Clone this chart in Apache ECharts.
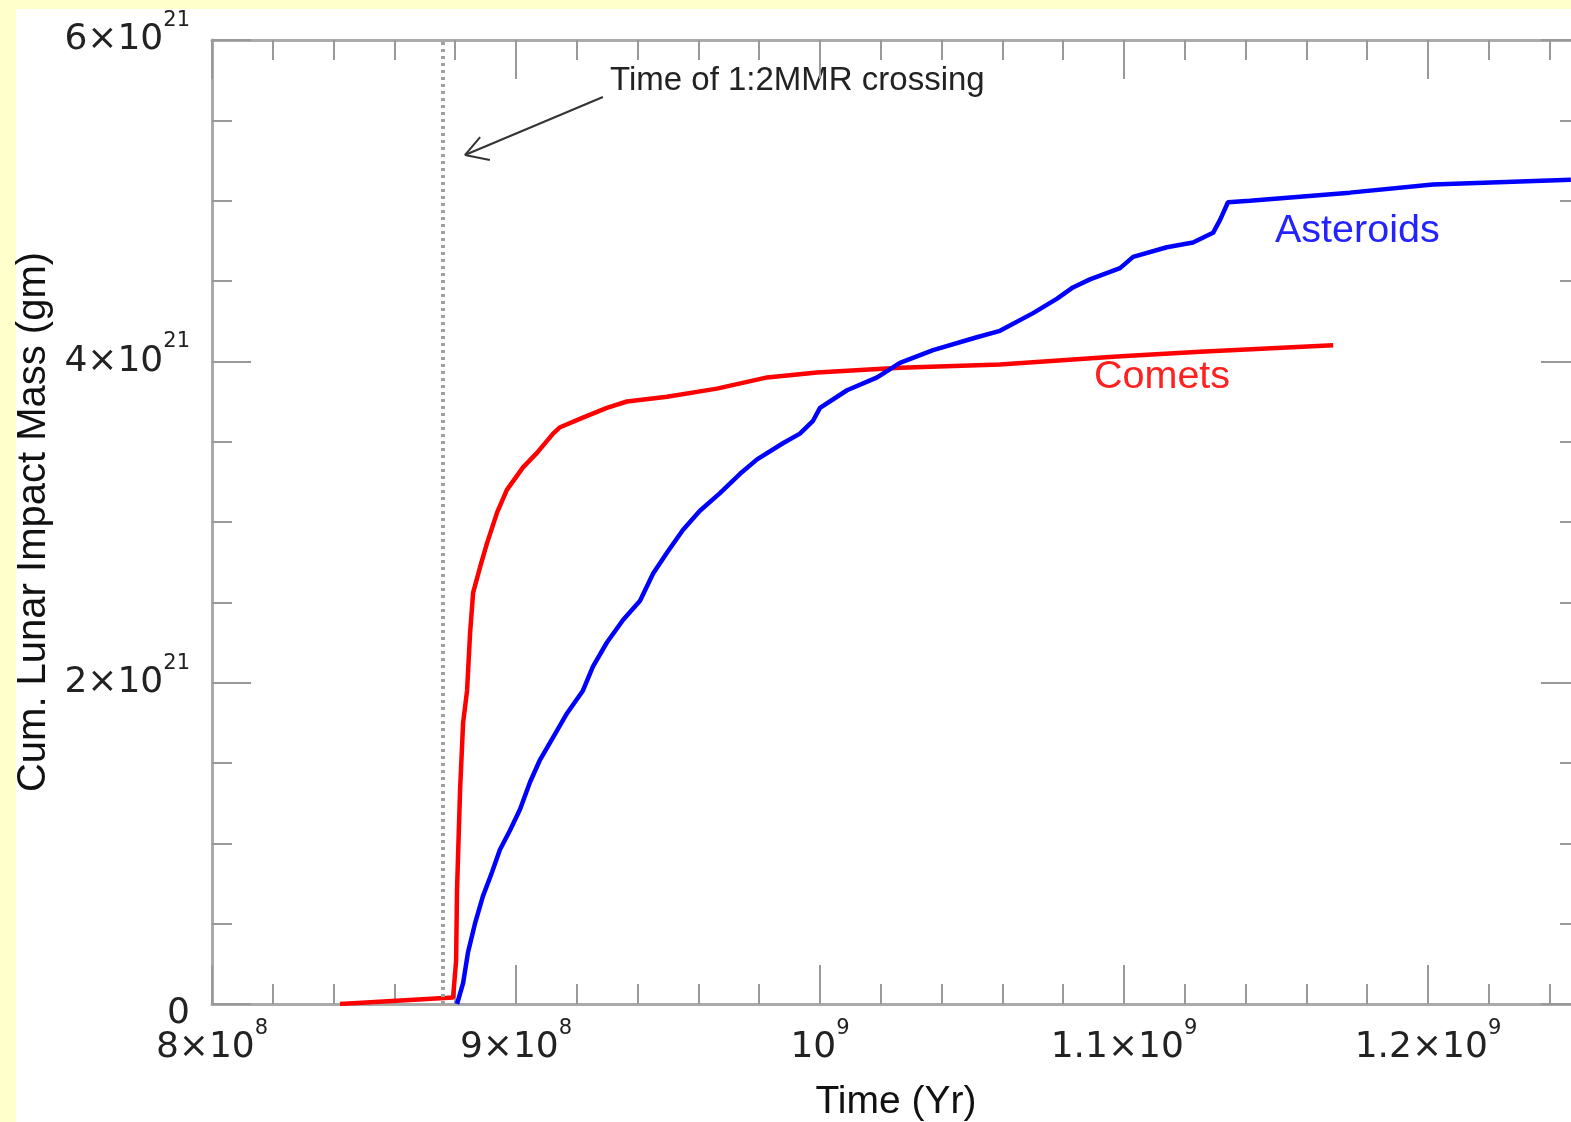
<!DOCTYPE html>
<html><head><meta charset="utf-8">
<script src="https://cdn.jsdelivr.net/npm/echarts@6/dist/echarts.min.js"></script>
<style>html,body{margin:0;padding:0;background:#FFFFCC}#c{width:1571px;height:1122px}</style>
</head><body><div id="c"></div>
<script>
// Comets: time (yr) and cumulative lunar impact mass (units of 1e21 gm)
const cometTime = [8.421e8, 8.793e8, 8.803e8, 8.806e8, 8.816e8, 8.826e8, 8.839e8, 8.849e8, 8.859e8, 8.882e8, 8.905e8, 8.938e8, 8.970e8, 9.023e8, 9.069e8, 9.122e8, 9.145e8, 9.220e8, 9.299e8, 9.365e8, 9.497e8, 9.661e8, 9.826e8, 9.990e8, 1.0263e9, 1.0592e9, 1.0977e9, 1.125e9, 1.1688e9];
const cometMass = [0, 0.04, 0.27, 0.71, 1.33, 1.75, 1.95, 2.31, 2.56, 2.72, 2.87, 3.06, 3.20, 3.34, 3.43, 3.55, 3.59, 3.65, 3.71, 3.75, 3.78, 3.83, 3.90, 3.93, 3.96, 3.98, 4.03, 4.06, 4.10];
// Asteroids
const asteroidTime = [8.806e8, 8.826e8, 8.842e8, 8.865e8, 8.891e8, 8.921e8, 8.947e8, 8.980e8, 9.013e8, 9.046e8, 9.079e8, 9.122e8, 9.168e8, 9.220e8, 9.253e8, 9.299e8, 9.352e8, 9.408e8, 9.451e8, 9.497e8, 9.549e8, 9.605e8, 9.671e8, 9.737e8, 9.793e8, 9.878e8, 9.934e8, 9.977e8, 1.0000e9, 1.0089e9, 1.0188e9, 1.0263e9, 1.0372e9, 1.0516e9, 1.0592e9, 1.0701e9, 1.0780e9, 1.0832e9, 1.0888e9, 1.0987e9, 1.1030e9, 1.1141e9, 1.1227e9, 1.1293e9, 1.1316e9, 1.1342e9, 1.1414e9, 1.1743e9, 1.2016e9, 1.2470e9];
const asteroidMass = [0, 0.13, 0.32, 0.50, 0.67, 0.82, 0.96, 1.08, 1.21, 1.38, 1.52, 1.66, 1.81, 1.95, 2.10, 2.25, 2.39, 2.51, 2.68, 2.81, 2.95, 3.07, 3.18, 3.30, 3.39, 3.49, 3.55, 3.63, 3.71, 3.82, 3.90, 3.99, 4.07, 4.15, 4.19, 4.30, 4.39, 4.46, 4.51, 4.58, 4.65, 4.71, 4.74, 4.80, 4.88, 4.99, 5.00, 5.05, 5.10, 5.13];

const xTickValues = [8e8, 9e8, 1e9, 1.1e9, 1.2e9];
const xTickMantissa = ['8×10', '9×10', '10', '1.1×10', '1.2×10'];
const xTickExponent = ['8', '8', '9', '9', '9'];
const yTickValues = [0, 2, 4, 6];
const yTickMantissa = ['0', '2×10', '4×10', '6×10'];
const yTickExponent = ['', '21', '21', '21'];

const mmrCrossingTime = 8.76e8;
const arrowTail = [9.286e8, 5.645];
const arrowTip = [8.832e8, 5.284];
const arrowBarbA = [8.882e8, 5.396];
const arrowBarbB = [8.914e8, 5.253];

const FONT = '"Liberation Sans", Arial, sans-serif';
const TICKFONT = '"DejaVu Sans", sans-serif';
const chart = echarts.init(document.getElementById('c'));

function findIdx(arr, v, tol) { return arr.findIndex(a => Math.abs(a - v) < tol); }

const axisLineStyle = { color: '#aaa', width: 3 };
const tickStyle = { color: '#999', width: 2 };
const tickRich = {
  b: { fontSize: 36, fontFamily: TICKFONT, color: '#222', lineHeight: 60 },
  s: { fontSize: 21, fontFamily: TICKFONT, color: '#222', lineHeight: 22, verticalAlign: 'top' },
  q: { fontSize: 10, fontFamily: TICKFONT, lineHeight: 56 },
  z: { fontSize: 36, fontFamily: TICKFONT, color: '#222', lineHeight: 40, verticalAlign: 'bottom' }
};

function xAxisDef(pos, showLabel) {
  return {
    type: 'value', position: pos, min: 8e8, max: 1.25e9, interval: 1e8,
    axisLine: { show: true, onZero: false, lineStyle: axisLineStyle },
    axisTick: { show: true, inside: true, length: 39, lineStyle: tickStyle },
    minorTick: { show: true, splitNumber: 5, length: 20, lineStyle: tickStyle },
    splitLine: { show: false }, minorSplitLine: { show: false },
    axisLabel: showLabel ? {
      show: true, margin: 14, hideOverlap: false,
      formatter: function (v) {
        const i = findIdx(xTickValues, v, 1e3);
        if (i < 0) return '';
        return '{b|' + xTickMantissa[i] + '}{s|' + xTickExponent[i] + '}';
      },
      rich: tickRich
    } : { show: false }
  };
}
function yAxisDef(pos, showLabel) {
  return {
    type: 'value', position: pos, min: 0, max: 6, interval: 2,
    axisLine: { show: true, onZero: false, lineStyle: axisLineStyle },
    axisTick: { show: true, inside: true, length: 39, lineStyle: tickStyle },
    minorTick: { show: true, splitNumber: 4, length: 20, lineStyle: tickStyle },
    splitLine: { show: false }, minorSplitLine: { show: false },
    axisLabel: showLabel ? {
      show: true, margin: 22,
      formatter: function (v) {
        const i = findIdx(yTickValues, v, 1e-6);
        if (i < 0) return '';
        if (yTickExponent[i] === '') return '{q| }{z|' + yTickMantissa[i] + '}';
        return '{b|' + yTickMantissa[i] + '}{s|' + yTickExponent[i] + '}';
      },
      rich: tickRich
    } : { show: false }
  };
}

const xb = xAxisDef('bottom', true);
xb.name = 'Time (Yr)'; xb.nameLocation = 'middle'; xb.nameGap = 79;
xb.nameTextStyle = { fontSize: 39, fontFamily: FONT, color: '#111' };
const yl = yAxisDef('left', true);
yl.name = 'Cum. Lunar Impact Mass (gm)'; yl.nameLocation = 'middle'; yl.nameGap = 158;
yl.nameTextStyle = { fontSize: 40, fontFamily: FONT, color: '#111' };

const option = {
  backgroundColor: '#FFFFCC',
  animation: false,
  grid: { left: 212, top: 40, bottom: 118, right: -9, containLabel: false, outerBoundsMode: 'none' },
  xAxis: [xb, xAxisDef('top', false)],
  yAxis: [yl, yAxisDef('right', false)],
  graphic: [
    { type: 'rect', z: -100, shape: { x: 16, y: 9, width: 1600, height: 1200 }, style: { fill: '#ffffff' } },
    { type: 'text', left: 610, top: 64, style: { text: 'Time of 1:2MMR crossing', font: '33px ' + FONT, fill: '#222' } },
    { type: 'text', left: 1275, top: 211, style: { text: 'Asteroids', font: '39.5px ' + FONT, fill: '#2323ff' } },
    { type: 'text', left: 1094, top: 357, style: { text: 'Comets', font: '39.5px ' + FONT, fill: '#ff2020' } }
  ],
  series: [
    {
      type: 'line', name: 'Comets', showSymbol: false, symbol: 'none',
      data: cometTime.map((t, i) => [t, cometMass[i]]),
      lineStyle: { color: '#ff0000', width: 4.5 }, z: 3,
      markLine: {
        silent: true, symbol: ['none', 'none'], label: { show: false }, animation: false,
        data: [
          { xAxis: mmrCrossingTime, lineStyle: { color: '#a0a0a0', width: 4, type: [3, 4] } },
          [{ coord: arrowTail, lineStyle: { color: '#333', width: 2, type: 'solid' } }, { coord: arrowTip }],
          [{ coord: arrowTip, lineStyle: { color: '#333', width: 2, type: 'solid' } }, { coord: arrowBarbA }],
          [{ coord: arrowTip, lineStyle: { color: '#333', width: 2, type: 'solid' } }, { coord: arrowBarbB }]
        ]
      }
    },
    {
      type: 'line', name: 'Asteroids', showSymbol: false, symbol: 'none',
      data: asteroidTime.map((t, i) => [t, asteroidMass[i]]),
      lineStyle: { color: '#0000ff', width: 4.5 }, z: 4
    }
  ]
};
chart.setOption(option);
</script></body></html>
